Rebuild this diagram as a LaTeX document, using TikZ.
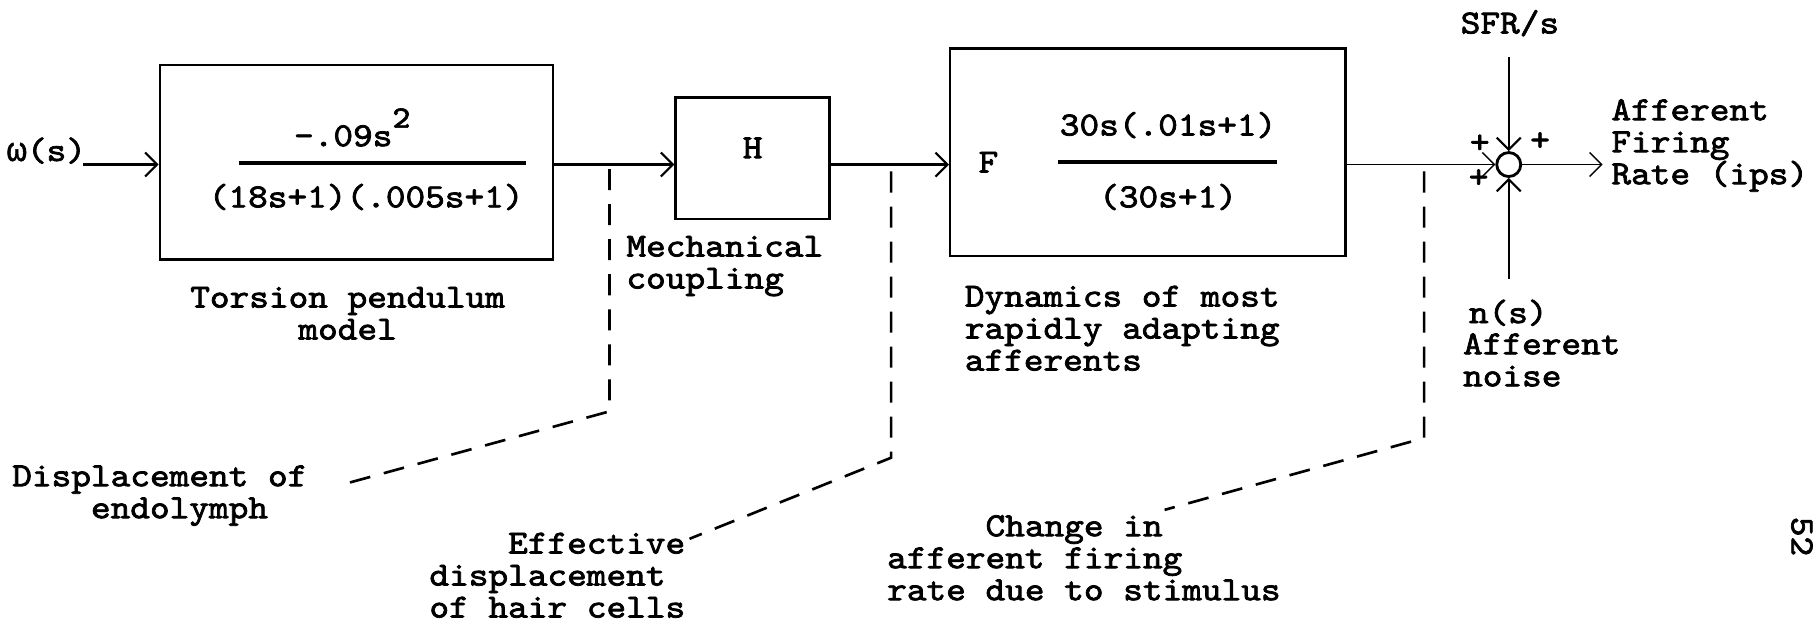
\documentclass[tikz,border=0pt]{standalone}
\usepackage{fontspec}
\setmainfont{Latin Modern Mono}[FakeStretch=1.11,FakeBold=2.2]
\newfontfamily\gkfont{Liberation Mono}[FakeBold=1.5]
\usetikzlibrary{arrows.meta,fit}
\begin{document}
\begin{tikzpicture}[x=0.011588cm,y=-0.011588cm,
  txt/.style={inner sep=0pt,font=\fontsize{9.6}{9.1}\selectfont},
  blk/.style={draw,line width=0.7pt,inner sep=0pt,font=\fontsize{9.6}{9.1}\selectfont},
  bar/.style={line width=1.2pt},
  conn/.style={line width=0.6pt,-{Straight Barb[length=1.2mm,width=2.4mm]}},
  thinconn/.style={conn,line width=0.4pt},
  lead/.style={line width=0.75pt,dash pattern=on 2.1mm off 1.4mm},
]
\useasboundingbox (0,0) rectangle (1568,540);

% blocks
\coordinate (b1a) at (138,56); \coordinate (b1b) at (477,224);
\coordinate (b2a) at (583,84); \coordinate (b2b) at (716,189);
\coordinate (b3a) at (820,42); \coordinate (b3b) at (1161,221);
\node[blk,fit=(b1a)(b1b)] (tp) {};
\node[blk,fit=(b2a)(b2b)] (H) {H};
\node[blk,fit=(b3a)(b3b)] (F) {};
\node[circle,draw,line width=0.8pt,minimum size=0.24cm,inner sep=0pt] (sum) at (1302,142) {};

% transfer functions
\node[txt] (tpn) at (304,110) {-.09s\raisebox{0.55em}{\fontsize{8.8}{9}\selectfont 2}};
\node[txt] (tpd) at (316,170) {(18s+1)(.005s+1)};
\draw[bar] (206,141) -- (454,141);
\node[txt] (Fl) at (853,140) {F};
\node[txt] (Fn) at (1008,108) {30s(.01s+1)};
\node[txt] (Fd) at (1008,170) {(30s+1)};
\draw[bar] (913,140) -- (1102,140);

% labels
\node[txt] (w) at (40,130) {{\gkfont ω}(s)};
\node[txt,align=center,anchor=north] (tpl) at (300,247) {Torsion pendulum\\model};
\node[txt,align=left,anchor=north west] (mc) at (540,203) {Mechanical\\coupling};
\node[txt,align=left,anchor=north west] (dyn) at (832,246) {Dynamics of most\\rapidly adapting\\afferents};
\node[txt] (sfr) at (1303,20) {SFR/s};
\node[txt,align=left,anchor=north west] (afr) at (1390,85) {Afferent\\Firing\\Rate (ips)};
\node[txt,anchor=north west] (ns) at (1267,258) {n(s)};
\node[txt,align=left,anchor=north west] (an) at (1262,287) {Afferent\\noise};
\node[txt] (p1) at (1277,124) {+};
\node[txt] (p2) at (1276,154) {+};
\node[txt] (p3) at (1329,122) {+};
\node[txt,align=left,anchor=north west] (de) at (10,401) {Displacement of\\\phantom{0000}endolymph};
\node[txt,align=left,anchor=north west] (ed) at (370,459) {\phantom{0000}Effective\\displacement\\of hair cells};
\node[txt,align=left,anchor=north west] (ch) at (765,444) {\phantom{00000}Change in\\afferent firing\\rate due to stimulus};
\node[txt,rotate=-90] (pg) at (1555,463) {52};

% connectors
\coordinate (win) at (72,142);
\coordinate (ml) at (0,142);
\coordinate (out) at (1383,142);
\draw[conn] (win) -- (win -| tp.west);
\draw[conn] (tp.east |- ml) -- (H.west |- ml);
\draw[conn] (H.east |- ml) -- (F.west |- ml);
\draw[thinconn] (F.east |- ml) -- (sum.west);
\draw[thinconn] (sum.east) -- (out);
\draw[conn,shorten <=2mm] (sum.north |- sfr.south) -- (sum.north);
\draw[conn,shorten <=2mm] (sum.south |- ns.north) -- (sum.south);

% leader lines
\coordinate (l1a) at (526,146); \coordinate (l1b) at (526,355); \coordinate (l1c) at (296,418);
\coordinate (l2a) at (769,148); \coordinate (l2b) at (769,395); \coordinate (l2c) at (595,465);
\coordinate (l3a) at (1229,148); \coordinate (l3b) at (1229,378); \coordinate (l3c) at (1005,440);
\draw[lead] (l1a) -- (l1b) -- (l1c);
\draw[lead] (l2a) -- (l2b) -- (l2c);
\draw[lead] (l3a) -- (l3b) -- (l3c);
\end{tikzpicture}
\end{document}
